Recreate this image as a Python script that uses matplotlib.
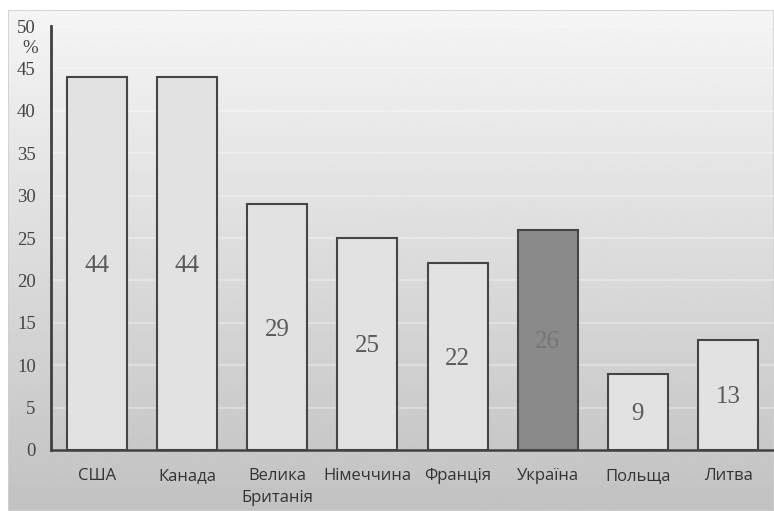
import matplotlib.pyplot as plt
import numpy as np

countries = ["США", "Канада", "Велика\nБританія", "Німеччина", "Франція", "Україна", "Польща", "Литва"]
values = [44, 44, 29, 25, 22, 26, 9, 13]
highlight = "Україна"
y_ticks = [0, 5, 10, 15, 20, 25, 30, 35, 40, 45, 50]

fig = plt.figure(figsize=(7.74, 5.11), dpi=100)
fig.patch.set_facecolor("white")

# grey gradient panel behind the chart
bg = fig.add_axes([8 / 774, 0, 1 - 8 / 774, 1 - 10 / 511], zorder=0)
grad = np.linspace(0.96, 0.76, 256).reshape(-1, 1)
bg.imshow(grad, aspect="auto", cmap="gray", vmin=0, vmax=1, extent=[0, 1, 0, 1])
bg.set_axis_off()
bg.add_patch(plt.Rectangle((0, 0), 1, 1, transform=bg.transAxes, fill=False,
                           edgecolor="#d0d0d0", lw=1.2))

ax = fig.add_axes([51 / 774, 1 - 450 / 511, 1 - 51 / 774, (450 - 26) / 511], zorder=1)
ax.patch.set_alpha(0)

x = np.arange(len(countries))
colors = ["#8a8a8a" if c == highlight else "#e2e2e2" for c in countries]
bars = ax.bar(x, values, width=0.665, color=colors, edgecolor="#454545", linewidth=1.5, zorder=3)

for xi, v, c in zip(x, values, countries):
    ax.text(xi, v / 2, str(v), ha="center", va="center_baseline", fontsize=18,
            family="Liberation Serif", color="#767676" if c == highlight else "#5a5a5a", zorder=4)

ax.set_xlim(-0.51, len(countries) - 0.49)
ax.set_ylim(0, 50)
ax.set_yticks(y_ticks)
ax.set_yticklabels([str(t) for t in y_ticks], family="Liberation Serif", fontsize=13.5, color="#444444")
ax.set_xticks(x)
ax.set_xticklabels(countries, family="Open Sans", fontsize=12, color="#333333", linespacing=1.5)
ax.tick_params(axis="both", length=0)
ax.tick_params(axis="y", pad=11)
ax.tick_params(axis="x", pad=13)
ax.yaxis.grid(True, color="white", alpha=0.35, lw=1.2, zorder=1)
ax.set_axisbelow(True)

for s in ["top", "right"]:
    ax.spines[s].set_visible(False)
ax.spines["left"].set_color("#404040")
ax.spines["left"].set_linewidth(2)
ax.spines["bottom"].set_color("#404040")
ax.spines["bottom"].set_linewidth(1.8)

ax.text(-0.74, 47.4, "%", ha="center", va="center", family="Liberation Serif",
        fontsize=13.5, color="#444444", transform=ax.transData, clip_on=False)

fig.savefig("out.png", dpi=100)
